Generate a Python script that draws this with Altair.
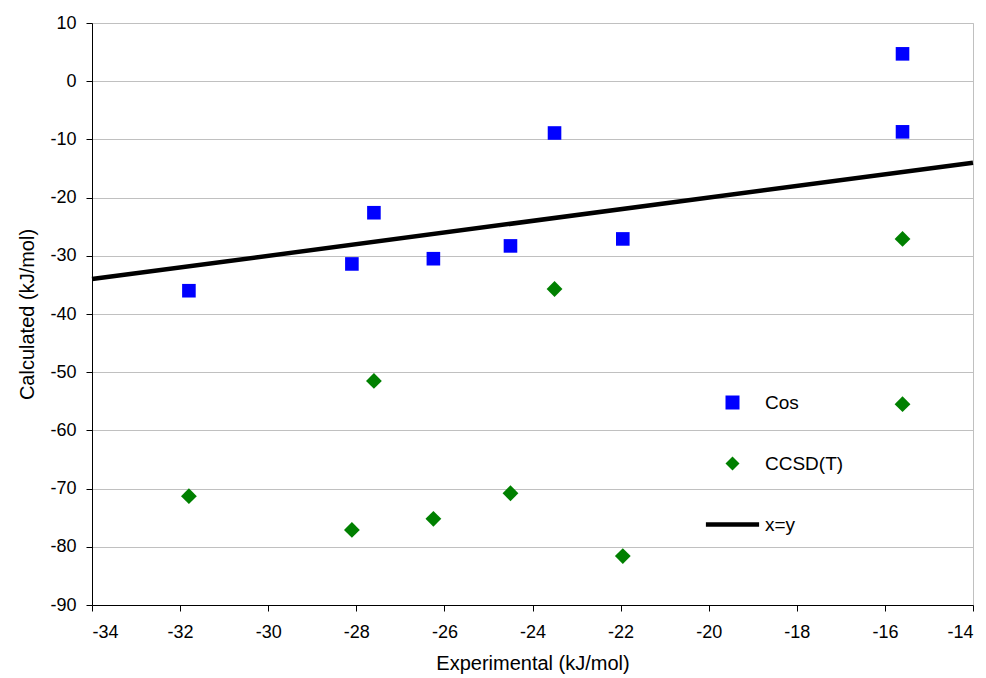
import altair as alt
import pandas as pd

exp_x = [-31.8, -28.1, -27.6, -26.25, -24.5, -23.5, -21.95, -15.6, -15.6]
cos_y = [-36.0, -31.4, -22.6, -30.5, -28.3, -8.9, -27.1, 4.7, -8.7]
ccsd_y = [-71.3, -77.1, -51.5, -75.2, -70.8, -35.7, -81.6, -27.1, -55.5]
line_x = [-34, -14]
line_y = [-34, -14]

series = ["Cos", "CCSD(T)", "x=y"]
colors = ["#0000ff", "#008000", "#000000"]
shapes = ["square", "diamond", "M-3.8,-0.32H3.8V0.32H-3.8Z"]

cos_df = pd.DataFrame({"x": exp_x, "y": cos_y, "s": ["Cos"] * len(exp_x)})
ccsd_df = pd.DataFrame({"x": exp_x, "y": ccsd_y, "s": ["CCSD(T)"] * len(exp_x)})
ln = pd.DataFrame({"x": line_x, "y": line_y, "s": ["x=y"] * 2})

font = "Liberation Sans"
xs = alt.Scale(domain=[-34, -14], nice=False)
ys = alt.Scale(domain=[-90, 10], nice=False)
common = dict(labelFont=font, titleFont=font, labelFontSize=18, titleFontSize=20,
              labelColor="black", titleColor="black", titleFontWeight="normal",
              domainColor="black", tickColor="black", tickSize=6,
              labelExpr="'' + datum.value")
xax = alt.Axis(values=list(range(-34, -13, 2)), title="Experimental (kJ/mol)", grid=False,
               labelPadding=12, titlePadding=12, **common)
yax = alt.Axis(values=list(range(-90, 11, 10)), title="Calculated (kJ/mol)", grid=True,
               gridColor="#c0c0c0", labelPadding=10, titlePadding=12, **common)
cscale = alt.Scale(domain=series, range=colors)
sscale = alt.Scale(domain=series, range=shapes)
legend = alt.Legend(title=None, orient="none", legendX=631, legendY=370,
                    rowPadding=41, labelOffset=23, symbolSize=196, symbolStrokeWidth=0,
                    labelFontSize=19, labelFont=font, labelColor="black", symbolOpacity=1)

line = alt.Chart(ln).mark_line(strokeWidth=4.5, color="black").encode(
    x=alt.X("x:Q", scale=xs, axis=xax),
    y=alt.Y("y:Q", scale=ys, axis=yax),
    color=alt.Color("s:N", scale=cscale, legend=legend),
)
squares = alt.Chart(cos_df).mark_point(filled=True, opacity=1, size=185).encode(
    x=alt.X("x:Q", scale=xs),
    y=alt.Y("y:Q", scale=ys),
    color=alt.Color("s:N", scale=cscale, legend=legend),
    shape=alt.Shape("s:N", scale=sscale, legend=legend),
)
diamonds = alt.Chart(ccsd_df).mark_point(filled=True, opacity=1, size=250).encode(
    x=alt.X("x:Q", scale=xs),
    y=alt.Y("y:Q", scale=ys),
    color=alt.Color("s:N", scale=cscale, legend=legend),
    shape=alt.Shape("s:N", scale=sscale, legend=legend),
)

chart = alt.layer(line, squares, diamonds).properties(
    width=881, height=582,
    background="white",
    autosize=alt.AutoSizeParams(type="none"),
    padding={"left": 92, "top": 23, "right": 13, "bottom": 73},
).configure_view(stroke="#c0c0c0", strokeWidth=1)

chart.save("out.html", embed_options={"renderer": "svg", "actions": False})
